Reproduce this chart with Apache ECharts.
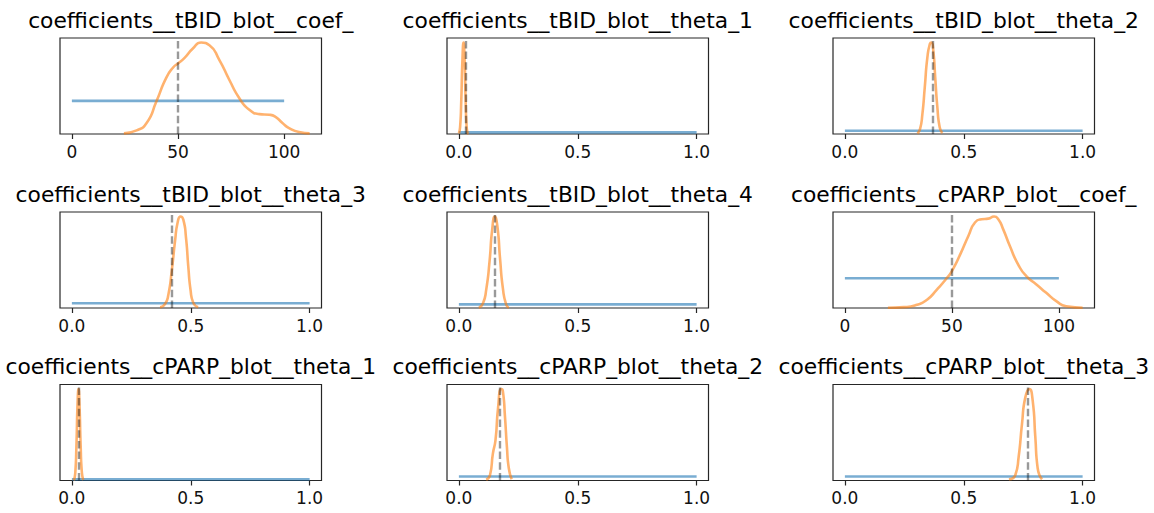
<!DOCTYPE html>
<html>
<head>
<meta charset="utf-8">
<script src="https://cdn.jsdelivr.net/npm/echarts@6/dist/echarts.min.js"></script>
<style>
  html, body { margin: 0; padding: 0; background: #ffffff; }
  #chart { width: 1154px; height: 513px; }
</style>
</head>
<body>
<div id="chart"></div>
<script>
// ---------------- DATA ----------------
const panelTitles = [
  'coefficients__tBID_blot__coef_',
  'coefficients__tBID_blot__theta_1',
  'coefficients__tBID_blot__theta_2',
  'coefficients__tBID_blot__theta_3',
  'coefficients__tBID_blot__theta_4',
  'coefficients__cPARP_blot__coef_',
  'coefficients__cPARP_blot__theta_1',
  'coefficients__cPARP_blot__theta_2',
  'coefficients__cPARP_blot__theta_3'
];

// true parameter values (dashed lines)
const truthValues = [50, 0.031, 0.371, 0.42, 0.151, 50, 0.031, 0.172, 0.769];

// uniform priors (blue lines)
const priorLow = [0, 0, 0, 0, 0, 0, 0, 0, 0];
const priorHigh = [100, 1, 1, 1, 1, 100, 1, 1, 1];
const priorDensity = [0.01, 1, 1, 1, 1, 0.01, 1, 1, 1];

// tick labels
const tickValuesCoef = [0, 50, 100];
const tickLabelsCoef = ['0', '50', '100'];
const tickValuesUnit = [0, 0.5, 1];
const tickLabelsUnit = ['0.0', '0.5', '1.0'];

// posterior KDEs (orange lines), [x, density]
const kdeTbidCoef = [
  [24.5, 0.0002], [30.5, 0.0011], [35.2, 0.0033], [39.8, 0.0098], [44.5, 0.0170],
  [48.0, 0.0203], [50.0, 0.0213], [53.1, 0.0230], [57.0, 0.0258], [60.9, 0.0276],
  [64.8, 0.0268], [69.5, 0.0223], [74.2, 0.0163], [78.9, 0.0108], [83.6, 0.0073],
  [88.3, 0.0060], [93.0, 0.0058], [96.1, 0.0051], [99.2, 0.0033], [102.3, 0.0018],
  [107.0, 0.0006], [112.0, 0.0002]
];
const kdeTbidTheta1 = [
  [0.000, 0.3], [0.005, 4], [0.010, 20], [0.015, 45], [0.0196, 55],
  [0.024, 45], [0.028, 22], [0.032, 6], [0.036, 1], [0.040, 0.1]
];
const kdeTbidTheta2 = [
  [0.305, 0.2], [0.316, 1.5], [0.326, 6.0], [0.336, 14.1], [0.347, 23.2],
  [0.358, 27.4], [0.364, 27.7], [0.372, 25.2], [0.380, 17.1], [0.389, 8.1],
  [0.399, 2.0], [0.410, 0.3]
];
const kdeTbidTheta3 = [
  [0.371, 0.14], [0.392, 0.86], [0.406, 2.9], [0.420, 7.9], [0.434, 14.3],
  [0.445, 18.3], [0.457, 19.5], [0.469, 18.8], [0.480, 15.0], [0.490, 8.6],
  [0.499, 3.9], [0.510, 1.2], [0.531, 0.14]
];
const kdeTbidTheta4 = [
  [0.084, 0.05], [0.101, 1.2], [0.115, 5.0], [0.129, 12.7], [0.140, 21.3],
  [0.151, 24.9], [0.162, 22.2], [0.173, 13.6], [0.185, 5.4], [0.199, 0.9],
  [0.210, 0.05]
];
const kdeCparpCoef = [
  [20.1, 0.0001], [27.6, 0.0003], [33.7, 0.0011], [38.4, 0.0028], [43.0, 0.0062],
  [47.7, 0.0101], [50.0, 0.0124], [53.9, 0.0180], [57.7, 0.0242], [60.8, 0.0287],
  [63.9, 0.0298], [67.0, 0.0300], [69.7, 0.0307], [71.7, 0.0298], [74.0, 0.0264],
  [77.1, 0.0208], [81.0, 0.0146], [84.8, 0.0107], [89.5, 0.0079], [94.1, 0.0051],
  [98.8, 0.0023], [103.4, 0.0006], [111.1, 0.0001]
];
const kdeCparpTheta1 = [
  [0.008, 0.2], [0.014, 6], [0.019, 30], [0.024, 68], [0.028, 80],
  [0.032, 66], [0.037, 30], [0.042, 7], [0.048, 0.5]
];
const kdeCparpTheta2 = [
  [0.115, 0.2], [0.131, 1.4], [0.143, 6.8], [0.154, 10.2], [0.165, 18.5],
  [0.178, 23.1], [0.185, 22.6], [0.194, 16.0], [0.202, 8.5], [0.210, 3.1],
  [0.222, 0.3]
];
const kdeCparpTheta3 = [
  [0.690, 0.3], [0.717, 1.4], [0.731, 6.0], [0.745, 14.3], [0.759, 21.0],
  [0.776, 23.1], [0.790, 20.2], [0.801, 11.0], [0.811, 3.1], [0.829, 0.3]
];

const kdeList = [
  kdeTbidCoef, kdeTbidTheta1, kdeTbidTheta2,
  kdeTbidTheta3, kdeTbidTheta4, kdeCparpCoef,
  kdeCparpTheta1, kdeCparpTheta2, kdeCparpTheta3
];

// ---------------- LAYOUT ----------------
const colLeft = [60, 447, 833];
const colWidth = 261.5;
const rowTop = [38, 212, 384.5];
const rowHeight = 96;

const BLUE = 'rgba(31,119,180,0.6)';
const ORANGE = 'rgba(255,127,14,0.6)';
const TRUTH = 'rgba(0,0,0,0.4)';
const FRAME = '#262626';
const FONT = 'DejaVu Sans';

const grids = [], xAxes = [], yAxes = [], series = [], graphics = [];

for (let i = 0; i < 9; i++) {
  const r = Math.floor(i / 3), c = i % 3;
  const kde = kdeList[i];
  const isCoef = priorHigh[i] > 1;

  grids.push({
    left: colLeft[c], top: rowTop[r], width: colWidth, height: rowHeight,
    show: true, borderColor: FRAME, borderWidth: 1.2, backgroundColor: 'transparent',
    containLabel: false
  });

  // matplotlib-like autoscale: data extent + 5% margins
  let lo = priorLow[i], hi = priorHigh[i];
  kde.forEach(p => { lo = Math.min(lo, p[0]); hi = Math.max(hi, p[0]); });
  const pad = 0.05 * (hi - lo);

  const tv = isCoef ? tickValuesCoef : tickValuesUnit;
  const tl = isCoef ? tickLabelsCoef : tickLabelsUnit;

  xAxes.push({
    type: 'value', gridIndex: i, min: lo - pad, max: hi + pad,
    axisLine: { show: false },
    splitLine: { show: false },
    axisTick: { show: true, inside: false, length: 5, customValues: tv,
      lineStyle: { color: FRAME, width: 1.2 } },
    axisLabel: { show: true, customValues: tv, margin: 9,
      formatter: v => { const k = tv.findIndex(t => Math.abs(t - v) < 1e-9); return k >= 0 ? tl[k] : ''; },
      fontFamily: FONT, fontSize: 17, color: '#111' }
  });

  let ymaxData = priorDensity[i];
  kde.forEach(p => { ymaxData = Math.max(ymaxData, p[1]); });
  yAxes.push({
    type: 'value', gridIndex: i, min: 0, max: ymaxData * 1.05,
    axisLine: { show: false }, axisTick: { show: false },
    axisLabel: { show: false }, splitLine: { show: false }
  });

  series.push({
    type: 'line', xAxisIndex: i, yAxisIndex: i,
    data: [[priorLow[i], priorDensity[i]], [priorHigh[i], priorDensity[i]]],
    showSymbol: false, symbol: 'none', silent: true, z: 2,
    lineStyle: { color: BLUE, width: 2.6 }
  });
  series.push({
    type: 'line', xAxisIndex: i, yAxisIndex: i,
    data: kde, smooth: 0.6,
    showSymbol: false, symbol: 'none', silent: true, z: 3,
    lineStyle: { color: ORANGE, width: 2.6 }
  });
  series.push({
    type: 'line', xAxisIndex: i, yAxisIndex: i, data: [],
    symbol: 'none', silent: true, z: 4,
    markLine: {
      silent: true, symbol: ['none', 'none'], label: { show: false },
      animation: false,
      lineStyle: { color: TRUTH, width: 2.4, type: [7.5, 3.2] },
      data: [{ xAxis: truthValues[i] }]
    }
  });

  graphics.push({
    type: 'text',
    x: colLeft[c] + colWidth / 2,
    y: rowTop[r] - 18,
    style: {
      text: panelTitles[i], textAlign: 'center', textVerticalAlign: 'middle',
      fontFamily: FONT, fontSize: 21.8, fill: '#000'
    }
  });
}

const chart = echarts.init(document.getElementById('chart'), null, { renderer: 'svg' });
chart.setOption({
  animation: false,
  backgroundColor: '#ffffff',
  grid: grids,
  xAxis: xAxes,
  yAxis: yAxes,
  series: series,
  graphic: graphics
});
</script>
</body>
</html>
